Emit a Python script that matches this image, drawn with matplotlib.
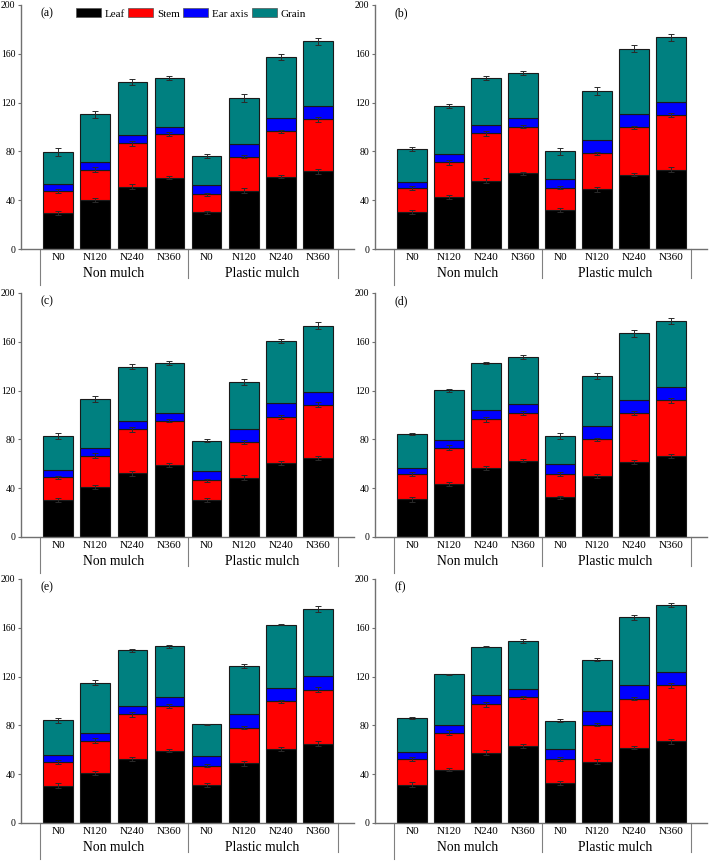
import matplotlib
matplotlib.use('Agg')
import matplotlib.pyplot as plt
import matplotlib.transforms as mtransforms
from matplotlib.patches import Patch
import numpy as np

plt.rcParams['font.family'] = ['Liberation Serif', 'DejaVu Serif']

treatments = ['N0', 'N120', 'N240', 'N360', 'N0', 'N120', 'N240', 'N360']
groups = ['Non mulch', 'Plastic mulch']
parts = ['Leaf', 'Stem', 'Ear axis', 'Grain']
part_colors = ['#000000', '#ff0000', '#0000ff', '#008080']
panel_labels = ['(a)', '(b)', '(c)', '(d)', '(e)', '(f)']

# component values per panel (stacked: leaf, stem, ear axis, grain)
leaf_a = [29.5, 39.9, 51.1, 58.5, 30.0, 47.8, 59.3, 63.7]
stem_a = [17.8, 25.1, 35.5, 35.5, 14.8, 27.9, 37.1, 42.6]
ear_a = [5.7, 6.0, 6.8, 6.0, 7.7, 10.6, 11.0, 10.7]
grain_a = [26.5, 39.4, 43.2, 39.9, 23.5, 37.5, 50.0, 53.2]

leaf_b = [30.3, 42.6, 56.0, 62.0, 32.0, 48.9, 61.0, 65.0]
stem_b = [19.7, 28.4, 38.8, 38.3, 18.3, 29.5, 38.7, 44.8]
ear_b = [5.2, 6.9, 6.8, 7.1, 7.4, 10.6, 10.7, 10.7]
grain_b = [26.5, 39.3, 38.3, 36.9, 22.3, 40.5, 53.8, 53.0]

leaf_c = [30.3, 41.0, 52.2, 59.0, 30.3, 48.6, 60.7, 64.8]
stem_c = [18.6, 25.7, 36.1, 36.4, 16.1, 29.0, 37.9, 43.7]
ear_c = [6.0, 6.0, 6.5, 6.5, 7.7, 10.7, 11.0, 10.4]
grain_c = [27.6, 40.4, 44.8, 40.7, 24.9, 38.5, 50.8, 54.3]

leaf_d = [30.9, 43.2, 56.6, 62.6, 32.5, 50.0, 61.5, 66.4]
stem_d = [20.7, 30.0, 39.8, 39.3, 19.4, 30.0, 39.9, 45.6]
ear_d = [5.2, 6.3, 7.4, 7.1, 7.7, 10.7, 10.6, 11.0]
grain_d = [27.6, 40.7, 38.8, 38.3, 23.2, 41.5, 54.9, 54.0]

leaf_e = [30.6, 41.0, 52.5, 59.4, 30.9, 49.0, 60.7, 65.1]
stem_e = [19.2, 26.6, 36.7, 36.6, 16.1, 29.2, 38.9, 44.3]
ear_e = [6.0, 6.0, 6.8, 6.9, 8.0, 11.0, 10.9, 10.7]
grain_e = [28.5, 41.3, 45.4, 41.8, 26.0, 39.4, 52.0, 55.3]

leaf_f = [31.2, 43.8, 57.5, 63.2, 32.8, 50.3, 61.8, 67.0]
stem_f = [21.3, 30.1, 39.9, 39.7, 19.7, 30.4, 40.2, 46.0]
ear_f = [5.5, 6.5, 7.4, 7.1, 8.0, 10.9, 11.0, 10.7]
grain_f = [28.2, 41.6, 39.7, 39.1, 23.5, 42.4, 55.8, 55.0]

# error bars (top of leaf, stem and total)
leaf_err = [2.0, 1.5, 2.0, 1.5, 1.5, 2.0, 1.5, 2.0]
stem_err = [1.5, 2.0, 2.0, 1.5, 1.5, 1.5, 1.5, 2.0]
total_err_a = [3.5, 3.0, 2.5, 1.5, 1.5, 3.0, 2.5, 3.0]
total_err_b = [1.5, 2.0, 1.5, 1.5, 3.0, 3.0, 3.0, 3.0]
total_err_c = [2.5, 2.5, 2.0, 1.5, 1.5, 2.5, 1.5, 3.0]
total_err_d = [1.0, 1.0, 1.0, 1.5, 2.5, 2.5, 3.0, 2.5]
total_err_e = [2.0, 2.0, 1.0, 1.0, 0.5, 1.5, 0.5, 2.5]
total_err_f = [1.0, 0.3, 0.3, 1.5, 1.5, 1.5, 2.0, 1.5]

panels = [
    (leaf_a, stem_a, ear_a, grain_a, total_err_a),
    (leaf_b, stem_b, ear_b, grain_b, total_err_b),
    (leaf_c, stem_c, ear_c, grain_c, total_err_c),
    (leaf_d, stem_d, ear_d, grain_d, total_err_d),
    (leaf_e, stem_e, ear_e, grain_e, total_err_e),
    (leaf_f, stem_f, ear_f, grain_f, total_err_f),
]

W, H = 709, 861
fig = plt.figure(figsize=(W / 100, H / 100), dpi=100)

col_left = [21, 375]
col_right = [354, 707]
row_top = [5, 293, 579]
row_bottom = [249, 537, 823]

spine_col = '#707070'
x = np.arange(len(treatments))

for i, (leaf, stem, ear, grain, terr) in enumerate(panels):
    r, c = divmod(i, 2)
    ax = fig.add_axes([col_left[c] / W, 1 - row_bottom[r] / H,
                       (col_right[c] - col_left[c]) / W,
                       (row_bottom[r] - row_top[r]) / H])
    leaf = np.array(leaf)
    stem = np.array(stem)
    ear = np.array(ear)
    grain = np.array(grain)
    bottoms = [np.zeros(8), leaf, leaf + stem, leaf + stem + ear]
    for vals, bot, col in zip([leaf, stem, ear, grain], bottoms, part_colors):
        ax.bar(x, vals, 0.8, bottom=bot, color=col, edgecolor='#1a1a1a',
               linewidth=0.8, zorder=2)
    ekw = dict(fmt='none', ecolor='#2a2a2a', elinewidth=0.7, capsize=2,
               capthick=0.7, zorder=3)
    ax.errorbar(x, leaf, yerr=leaf_err, **ekw)
    ax.errorbar(x, leaf + stem, yerr=stem_err, **ekw)
    ax.errorbar(x, leaf + stem + ear + grain, yerr=terr, **ekw)

    ax.set_xlim(-1, 7.97)
    ax.set_ylim(0, 200)
    ax.set_yticks(range(0, 201, 40))
    ax.tick_params(axis='y', direction='out', length=2.5, width=0.8,
                   labelsize=7, pad=1.5, color=spine_col)
    ax.set_xticks(x)
    ax.set_xticklabels(treatments, fontsize=8)
    ax.tick_params(axis='x', length=0, pad=3)
    for s in ['top', 'right']:
        ax.spines[s].set_visible(False)
    for s in ['left', 'bottom']:
        ax.spines[s].set_color(spine_col)
        ax.spines[s].set_linewidth(1.0)

    trans = mtransforms.blended_transform_factory(ax.transData, ax.transAxes)
    for xs, ylow in [(-0.5, -0.148), (3.5, -0.12), (7.55, -0.12)]:
        ax.plot([xs, xs], [0, ylow], color='#808080', lw=0.8,
                transform=trans, clip_on=False)
    ax.text(1.5, -0.1, groups[0], transform=trans, ha='center',
            va='center', fontsize=9.8)
    ax.text(5.5, -0.1, groups[1], transform=trans, ha='center',
            va='center', fontsize=9.8)

    ax.text(0.06, 0.966, panel_labels[i], transform=ax.transAxes,
            ha='left', va='center', fontsize=8.5)

    if i == 0:
        handles = [Patch(facecolor=col, edgecolor='#555555', linewidth=0.5)
                   for col in part_colors]
        ax.legend(handles, parts, loc='center', bbox_to_anchor=(0.51, 0.966),
                  ncol=4, frameon=False, fontsize=8, handlelength=2.25,
                  handleheight=0.9, handletextpad=0.35, columnspacing=0.3,
                  borderpad=0, borderaxespad=0)

fig.savefig('out.png', dpi=100)
